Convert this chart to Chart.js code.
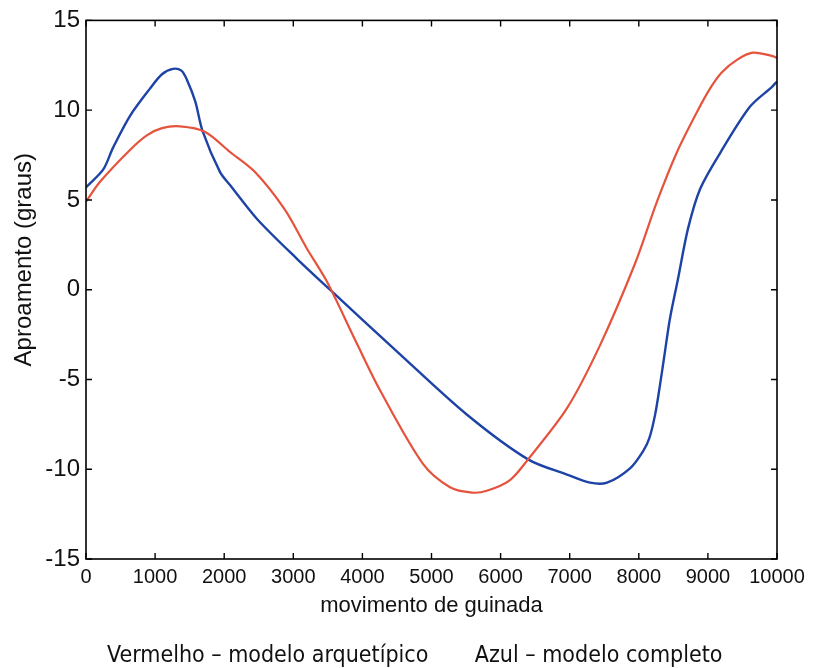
<!DOCTYPE html>
<html>
<head>
<meta charset="utf-8">
<script src="https://cdn.jsdelivr.net/npm/chart.js@4"></script>
<style>
  html, body { margin: 0; padding: 0; background: #fff; }
  #wrap { width: 813px; height: 668px; position: relative; }
</style>
</head>
<body>
<div id="wrap"><canvas id="chart"></canvas></div>
<script>
// Aproamento vs movimento de guinada – two model curves

// red curve (archetypal model)
const redX = [0, 200, 640, 880, 1100, 1360, 1720, 2084, 2446, 2880, 3198, 3488, 3920, 4255, 4877, 5268, 5586, 5800, 6136, 6397, 6961, 7438, 7950, 8263, 8553, 8842, 9030, 9200, 9420, 9650, 9950, 10000];
const redY = [4.9, 6.0, 7.8, 8.6, 9.0, 9.1, 8.8, 7.67, 6.55, 4.44, 2.28, 0.44, -3.0, -5.6, -9.7, -11.0, -11.3, -11.2, -10.6, -9.45, -6.6, -3.1, 1.5, 4.9, 7.67, 9.9, 11.2, 12.1, 12.8, 13.2, 13.0, 12.9];

// blue curve (complete model)
const blueX = [0, 250, 390, 640, 925, 1100, 1260, 1380, 1460, 1580, 1690, 1940, 2084, 2475, 3053, 3531, 4545, 5510, 6397, 6961, 7294, 7540, 7873, 8061, 8150, 8234, 8307, 8379, 8451, 8567, 8712, 8886, 9175, 9610, 9928, 10000];
const blueY = [5.7, 6.7, 7.9, 9.7, 11.2, 12.0, 12.3, 12.2, 11.7, 10.5, 8.8, 6.55, 5.83, 3.94, 1.72, 0.0, -3.6, -6.95, -9.45, -10.3, -10.75, -10.75, -9.95, -9.0, -8.3, -7.0, -5.3, -3.44, -1.6, 0.6, 3.4, 5.6, 7.6, 10.2, 11.3, 11.6];

const xTicks = [0, 1000, 2000, 3000, 4000, 5000, 6000, 7000, 8000, 9000, 10000];
const yTicks = [-15, -10, -5, 0, 5, 10, 15];

const seriesNames = ['Vermelho \u2013 modelo arquet\u00edpico', 'Azul \u2013 modelo completo'];

const toPoints = (xs, ys) => xs.map((x, i) => ({ x, y: ys[i] }));

// MATLAB-style box with inward ticks on all four sides
const boxTicks = {
  id: 'boxTicks',
  afterDatasetsDraw(chart) {
    const { ctx, chartArea: a, scales } = chart;
    const len = 6;
    ctx.save();
    ctx.strokeStyle = '#000';
    ctx.lineWidth = 1.6;
    ctx.strokeRect(a.left, a.top, a.right - a.left, a.bottom - a.top);
    ctx.lineWidth = 1.4;
    ctx.beginPath();
    xTicks.forEach((v) => {
      const px = scales.x.getPixelForValue(v);
      ctx.moveTo(px, a.bottom); ctx.lineTo(px, a.bottom - len);
      ctx.moveTo(px, a.top); ctx.lineTo(px, a.top + len);
    });
    yTicks.forEach((v) => {
      const py = scales.y.getPixelForValue(v);
      ctx.moveTo(a.left, py); ctx.lineTo(a.left + len, py);
      ctx.moveTo(a.right, py); ctx.lineTo(a.right - len, py);
    });
    ctx.stroke();
    ctx.restore();
  },
};

new Chart(document.getElementById('chart'), {
  type: 'scatter',
  data: {
    datasets: [
      {
        label: seriesNames[0],
        data: toPoints(redX, redY),
        showLine: true,
        borderColor: '#e5533d',
        borderWidth: 2.2,
        pointRadius: 0,
        tension: 0.3,
        backgroundColor: 'transparent',
      },
      {
        label: seriesNames[1],
        data: toPoints(blueX, blueY),
        showLine: true,
        borderColor: '#1e43a6',
        borderWidth: 2.4,
        pointRadius: 0,
        tension: 0.3,
        backgroundColor: 'transparent',
      },
    ],
  },
  options: {
    responsive: true,
    maintainAspectRatio: false,
    animation: false,
    layout: { padding: { left: 10, right: 36, top: 17, bottom: -10 } },
    plugins: {
      tooltip: { enabled: false },
      legend: {
        position: 'bottom',
        onClick: null,
        labels: {
          color: '#111',
          font: { family: '"DejaVu Sans Condensed", "DejaVu Sans", sans-serif', size: 23 },
          boxWidth: 31,
          boxHeight: 0,
          padding: 4,
          generateLabels: (chart) => chart.data.datasets.map((d, i) => ({
            text: d.label,
            fillStyle: 'rgba(0,0,0,0)',
            strokeStyle: 'rgba(0,0,0,0)',
            lineWidth: 0,
            fontColor: '#111',
            datasetIndex: i,
          })),
        },
      },
    },
    scales: {
      x: {
        type: 'linear',
        min: 0,
        max: 10000,
        afterBuildTicks: (scale) => { scale.ticks = xTicks.map((v) => ({ value: v })); },
        afterFit: (scale) => { scale.height = 82; },
        grid: { display: false, drawTicks: false },
        border: { display: false },
        ticks: {
          color: '#111',
          padding: 6,
          maxRotation: 0,
          callback: (v) => String(v),
          font: { family: '"Liberation Sans", Arial, sans-serif', size: 20 },
        },
        title: {
          display: true,
          text: 'movimento de guinada',
          color: '#111',
          padding: { top: 0, bottom: 22 },
          font: { family: '"Liberation Sans", Arial, sans-serif', size: 22 },
        },
      },
      y: {
        type: 'linear',
        min: -15,
        max: 15,
        afterBuildTicks: (scale) => { scale.ticks = yTicks.map((v) => ({ value: v })); },
        afterFit: (scale) => { scale.width = 76; },
        grid: { display: false, drawTicks: false },
        border: { display: false },
        ticks: {
          color: '#111',
          padding: 6,
          callback: (v) => String(v),
          font: { family: '"Liberation Sans", Arial, sans-serif', size: 24 },
        },
        title: {
          display: true,
          // leading spaces lift the label, as in the original figure
          text: '         Aproamento (graus)',
          color: '#111',
          padding: { top: 0, bottom: 2 },
          font: { family: '"Liberation Sans", Arial, sans-serif', size: 24 },
        },
      },
    },
  },
  plugins: [boxTicks],
});
</script>
</body>
</html>
